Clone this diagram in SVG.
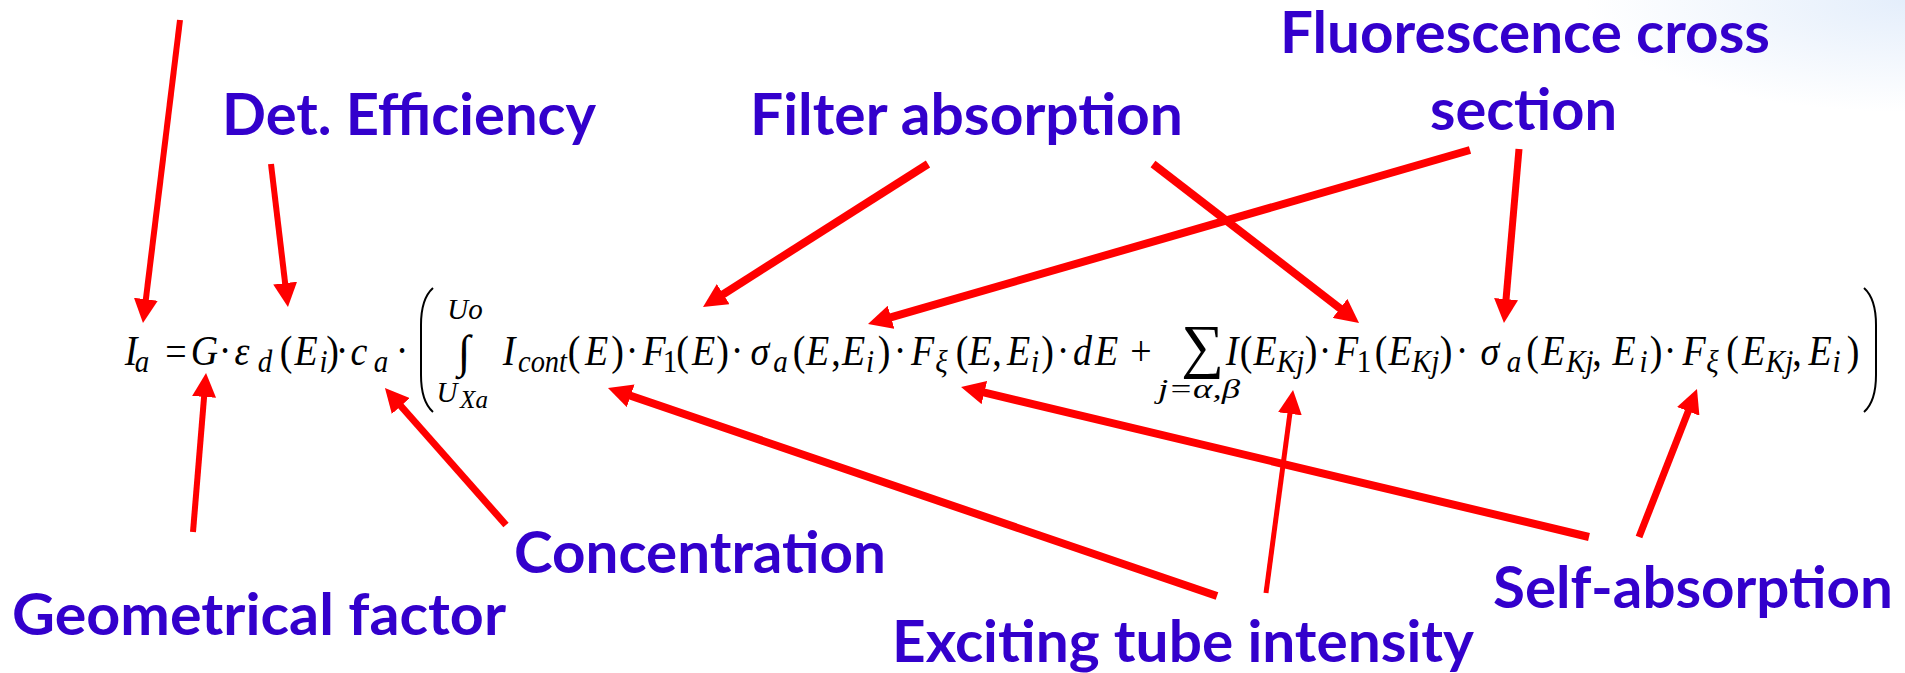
<svg xmlns="http://www.w3.org/2000/svg" width="1905" height="673" viewBox="0 0 1905 673">
<defs>
<radialGradient id="bg" cx="1905" cy="0" r="320" gradientUnits="userSpaceOnUse" gradientTransform="translate(1905 0) scale(1 0.35) translate(-1905 0)">
<stop offset="0" stop-color="#e4eefb"/>
<stop offset="1" stop-color="#ffffff"/>
</radialGradient>
<marker id="ah" markerUnits="userSpaceOnUse" markerWidth="24" markerHeight="24" refX="4" refY="12" orient="auto">
<path d="M0,0 L24,12 L0,24 z" fill="#ff0000"/>
</marker>
<style>
.lbl{font-family:Lato,"Open Sans",sans-serif;font-weight:700;font-size:57px;fill:#3300cc}
.eq{font-family:"Liberation Serif",serif;fill:#000;text-anchor:middle}
.mi{font-style:italic;font-size:38px}
.mr{font-style:normal;font-size:38px}
.si{font-style:italic;font-size:29px}
.sr{font-style:normal;font-size:29px}
.lim{font-style:italic;font-size:29px}
.ar{stroke:#ff0000;fill:none;marker-end:url(#ah)}
.br{stroke:#000;stroke-width:2;fill:none}
</style>
</defs>
<rect width="1905" height="673" fill="#ffffff"/>
<rect x="1500" y="0" width="405" height="150" fill="url(#bg)"/>

<g id="label-det-efficiency"><text class="lbl" x="222" y="135" textLength="374" lengthAdjust="spacingAndGlyphs">Det. Efficiency</text></g>
<g id="label-filter-absorption"><text class="lbl" x="750" y="135" textLength="433" lengthAdjust="spacingAndGlyphs">Filter absorption</text></g>
<g id="label-fluorescence"><text class="lbl" x="1280" y="53" textLength="490" lengthAdjust="spacingAndGlyphs">Fluorescence cross</text><text class="lbl" x="1430" y="130" textLength="187" lengthAdjust="spacingAndGlyphs">section</text></g>
<g id="label-geometrical"><text class="lbl" x="12" y="635" textLength="494" lengthAdjust="spacingAndGlyphs">Geometrical factor</text></g>
<g id="label-concentration"><text class="lbl" x="514" y="573" textLength="372" lengthAdjust="spacingAndGlyphs">Concentration</text></g>
<g id="label-exciting"><text class="lbl" x="892" y="662" textLength="582" lengthAdjust="spacingAndGlyphs">Exciting tube intensity</text></g>
<g id="label-self-absorption"><text class="lbl" x="1493" y="608" textLength="400" lengthAdjust="spacingAndGlyphs">Self-absorption</text></g>

<g id="equation">
<g transform="matrix(1 0 0 1.1 0 -36.5)">
<text class="eq"><tspan class="mi" x="131 204.5 242 306 359 509 596.5 654 703.5 760 817.5 853.5 922.5 980 1018.5 1082.5 1106.5 1232 1265 1346.5 1400 1490 1553 1624 1694 1753.5 1820" y="365">IGεEcIEFEσEEFEEdEIEFEσEEFEE</tspan><tspan class="mr" x="176 225 286 332.5 342 402 574 617.5 632 682.5 722.5 737 799 836 884 900 962 997 1047.5 1063 1141 1246 1311 1325 1381 1446 1462 1532.5 1597 1656 1670 1732.5 1797 1853" y="365">=·()··()·()·(,)·(,)·+()·()·(,)·(,)</tspan><tspan class="si" x="142 265 323.5 381 780.5 870 941.5 1035 1514 1643.5 1712.5 1836.5" y="371.4">adiaaiξiaiξi</tspan><tspan class="sr" x="670 1364" y="371.4">11</tspan></text>
<text class="eq si" x="542.5" y="371.4" textLength="49" lengthAdjust="spacingAndGlyphs">cont</text>
<text class="eq si" x="1290.5" y="371.4">Kj</text>
<text class="eq si" x="1425.5" y="371.4">Kj</text>
<text class="eq si" x="1580" y="371.4">Kj</text>
<text class="eq si" x="1779.5" y="371.4">Kj</text>
</g>
<text class="eq lim" x="465" y="319">Uo</text>
<text class="eq lim" x="447" y="402">U</text>
<text class="eq lim" x="474" y="408" style="font-size:25px">Xa</text>
<text class="eq mr" x="464" y="367" style="font-size:46px">∫</text>
<text class="eq mr" x="1202.5" y="366" style="font-size:60px">∑</text>
<text class="eq si" x="1199" y="398" style="font-size:28px" textLength="82" lengthAdjust="spacingAndGlyphs">j=α,β</text>
<path class="br" d="M433,288 C424,296 421,310 421,325 L421,375 C421,390 424,404 433,412"/>
<path class="br" d="M1864,288 C1873,296 1876,310 1876,325 L1876,375 C1876,390 1873,404 1864,412"/>
</g>

<g id="connectors">
<line class="ar" x1="180" y1="20" x2="145.4" y2="303.2" stroke-width="6"/>
<line class="ar" x1="271" y1="164" x2="285.6" y2="287.1" stroke-width="6"/>
<line class="ar" x1="928" y1="164" x2="719.9" y2="296.3" stroke-width="8"/>
<line class="ar" x1="1153" y1="164" x2="1343.2" y2="310.8" stroke-width="8"/>
<line class="ar" x1="1470" y1="150" x2="887.2" y2="318.4" stroke-width="8"/>
<line class="ar" x1="1519" y1="149" x2="1505.7" y2="303.1" stroke-width="7"/>
<line class="ar" x1="193" y1="532" x2="204.4" y2="392.9" stroke-width="6"/>
<line class="ar" x1="506" y1="525" x2="398.2" y2="403" stroke-width="7"/>
<line class="ar" x1="1217" y1="596" x2="626.9" y2="394.5" stroke-width="8"/>
<line class="ar" x1="1266" y1="593" x2="1290.4" y2="409.8" stroke-width="5"/>
<line class="ar" x1="1589" y1="537" x2="980.5" y2="391.6" stroke-width="8"/>
<line class="ar" x1="1639" y1="537" x2="1689.7" y2="407.6" stroke-width="7"/>
</g>
</svg>
